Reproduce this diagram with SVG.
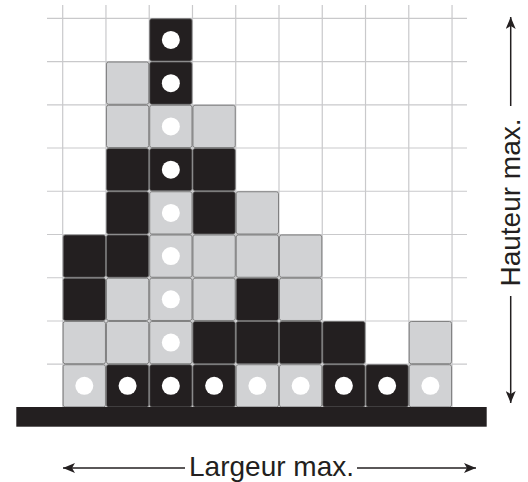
<svg xmlns="http://www.w3.org/2000/svg" width="528" height="482" viewBox="0 0 528 482">
<defs>
<style>
.grid line{stroke:#c9c9cb;stroke-width:1.2}
.b{fill:#231f20;stroke:#6a6a6a;stroke-width:0.8}
.g{fill:#d1d2d4;stroke:#6a6a6a;stroke-width:0.8}
.d{fill:#ffffff}
.ax{stroke:#231f20;stroke-width:1.5;fill:none}
.lbl{font-family:"Liberation Sans",Arial,sans-serif;font-size:28px;fill:#231f20}
</style>
<marker id="ah" viewBox="0 0 12 10" refX="12" refY="5" markerWidth="12" markerHeight="10" markerUnits="userSpaceOnUse" orient="auto">
<path d="M0,0 L12,5 L0,10 L3,5 Z" fill="#231f20"/>
</marker>
</defs>
<rect width="528" height="482" fill="#ffffff"/>
<g class="grid">
<line x1="62.7" y1="5" x2="62.7" y2="407"/>
<line x1="105.96" y1="5" x2="105.96" y2="407"/>
<line x1="149.22" y1="5" x2="149.22" y2="407"/>
<line x1="192.48" y1="5" x2="192.48" y2="407"/>
<line x1="235.74" y1="5" x2="235.74" y2="407"/>
<line x1="279" y1="5" x2="279" y2="407"/>
<line x1="322.26" y1="5" x2="322.26" y2="407"/>
<line x1="365.52" y1="5" x2="365.52" y2="407"/>
<line x1="408.78" y1="5" x2="408.78" y2="407"/>
<line x1="452.04" y1="5" x2="452.04" y2="407"/>
<line x1="47" y1="18.3" x2="467" y2="18.3"/>
<line x1="47" y1="61.54" x2="467" y2="61.54"/>
<line x1="47" y1="104.78" x2="467" y2="104.78"/>
<line x1="47" y1="148.02" x2="467" y2="148.02"/>
<line x1="47" y1="191.26" x2="467" y2="191.26"/>
<line x1="47" y1="234.5" x2="467" y2="234.5"/>
<line x1="47" y1="277.74" x2="467" y2="277.74"/>
<line x1="47" y1="320.98" x2="467" y2="320.98"/>
<line x1="47" y1="364.22" x2="467" y2="364.22"/>
</g>
<g id="cells">
<!-- row 0 -->
<g id="c2r0"><rect class="b" x="149.72" y="18.8" width="42.26" height="42.24" rx="2"/><circle class="d" cx="170.85" cy="39.92" r="9"/></g>
<!-- row 1 -->
<g id="c1r1"><rect class="g" x="106.46" y="62.04" width="42.26" height="42.24" rx="2"/></g>
<g id="c2r1"><rect class="b" x="149.72" y="62.04" width="42.26" height="42.24" rx="2"/><circle class="d" cx="170.85" cy="83.16" r="9"/></g>
<!-- row 2 -->
<g id="c1r2"><rect class="g" x="106.46" y="105.28" width="42.26" height="42.24" rx="2"/></g>
<g id="c2r2"><rect class="g" x="149.72" y="105.28" width="42.26" height="42.24" rx="2"/><circle class="d" cx="170.85" cy="126.4" r="9"/></g>
<g id="c3r2"><rect class="g" x="192.98" y="105.28" width="42.26" height="42.24" rx="2"/></g>
<!-- row 3 -->
<g id="c1r3"><rect class="b" x="106.46" y="148.52" width="42.26" height="42.24" rx="2"/></g>
<g id="c2r3"><rect class="b" x="149.72" y="148.52" width="42.26" height="42.24" rx="2"/><circle class="d" cx="170.85" cy="169.64" r="9"/></g>
<g id="c3r3"><rect class="b" x="192.98" y="148.52" width="42.26" height="42.24" rx="2"/></g>
<!-- row 4 -->
<g id="c1r4"><rect class="b" x="106.46" y="191.76" width="42.26" height="42.24" rx="2"/></g>
<g id="c2r4"><rect class="g" x="149.72" y="191.76" width="42.26" height="42.24" rx="2"/><circle class="d" cx="170.85" cy="212.88" r="9"/></g>
<g id="c3r4"><rect class="b" x="192.98" y="191.76" width="42.26" height="42.24" rx="2"/></g>
<g id="c4r4"><rect class="g" x="236.24" y="191.76" width="42.26" height="42.24" rx="2"/></g>
<!-- row 5 -->
<g id="c0r5"><rect class="b" x="63.2" y="235" width="42.26" height="42.24" rx="2"/></g>
<g id="c1r5"><rect class="b" x="106.46" y="235" width="42.26" height="42.24" rx="2"/></g>
<g id="c2r5"><rect class="g" x="149.72" y="235" width="42.26" height="42.24" rx="2"/><circle class="d" cx="170.85" cy="256.12" r="9"/></g>
<g id="c3r5"><rect class="g" x="192.98" y="235" width="42.26" height="42.24" rx="2"/></g>
<g id="c4r5"><rect class="g" x="236.24" y="235" width="42.26" height="42.24" rx="2"/></g>
<g id="c5r5"><rect class="g" x="279.5" y="235" width="42.26" height="42.24" rx="2"/></g>
<!-- row 6 -->
<g id="c0r6"><rect class="b" x="63.2" y="278.24" width="42.26" height="42.24" rx="2"/></g>
<g id="c1r6"><rect class="g" x="106.46" y="278.24" width="42.26" height="42.24" rx="2"/></g>
<g id="c2r6"><rect class="g" x="149.72" y="278.24" width="42.26" height="42.24" rx="2"/><circle class="d" cx="170.85" cy="299.36" r="9"/></g>
<g id="c3r6"><rect class="g" x="192.98" y="278.24" width="42.26" height="42.24" rx="2"/></g>
<g id="c4r6"><rect class="b" x="236.24" y="278.24" width="42.26" height="42.24" rx="2"/></g>
<g id="c5r6"><rect class="g" x="279.5" y="278.24" width="42.26" height="42.24" rx="2"/></g>
<!-- row 7 -->
<g id="c0r7"><rect class="g" x="63.2" y="321.48" width="42.26" height="42.24" rx="2"/></g>
<g id="c1r7"><rect class="g" x="106.46" y="321.48" width="42.26" height="42.24" rx="2"/></g>
<g id="c2r7"><rect class="g" x="149.72" y="321.48" width="42.26" height="42.24" rx="2"/><circle class="d" cx="170.85" cy="342.6" r="9"/></g>
<g id="c3r7"><rect class="b" x="192.98" y="321.48" width="42.26" height="42.24" rx="2"/></g>
<g id="c4r7"><rect class="b" x="236.24" y="321.48" width="42.26" height="42.24" rx="2"/></g>
<g id="c5r7"><rect class="b" x="279.5" y="321.48" width="42.26" height="42.24" rx="2"/></g>
<g id="c6r7"><rect class="b" x="322.76" y="321.48" width="42.26" height="42.24" rx="2"/></g>
<g id="c8r7"><rect class="g" x="409.28" y="321.48" width="42.26" height="42.24" rx="2"/></g>
<!-- row 8 -->
<g id="c0r8"><rect class="g" x="63.2" y="364.72" width="42.26" height="42.24" rx="2"/><circle class="d" cx="84.33" cy="385.84" r="9"/></g>
<g id="c1r8"><rect class="b" x="106.46" y="364.72" width="42.26" height="42.24" rx="2"/><circle class="d" cx="127.59" cy="385.84" r="9"/></g>
<g id="c2r8"><rect class="b" x="149.72" y="364.72" width="42.26" height="42.24" rx="2"/><circle class="d" cx="170.85" cy="385.84" r="9"/></g>
<g id="c3r8"><rect class="b" x="192.98" y="364.72" width="42.26" height="42.24" rx="2"/><circle class="d" cx="214.11" cy="385.84" r="9"/></g>
<g id="c4r8"><rect class="g" x="236.24" y="364.72" width="42.26" height="42.24" rx="2"/><circle class="d" cx="257.37" cy="385.84" r="9"/></g>
<g id="c5r8"><rect class="g" x="279.5" y="364.72" width="42.26" height="42.24" rx="2"/><circle class="d" cx="300.63" cy="385.84" r="9"/></g>
<g id="c6r8"><rect class="b" x="322.76" y="364.72" width="42.26" height="42.24" rx="2"/><circle class="d" cx="343.89" cy="385.84" r="9"/></g>
<g id="c7r8"><rect class="b" x="366.02" y="364.72" width="42.26" height="42.24" rx="2"/><circle class="d" cx="387.15" cy="385.84" r="9"/></g>
<g id="c8r8"><rect class="g" x="409.28" y="364.72" width="42.26" height="42.24" rx="2"/><circle class="d" cx="430.41" cy="385.84" r="9"/></g>
</g>
<g id="base"><rect x="16.3" y="407" width="470.4" height="19.7" fill="#231f20"/></g>
<g id="connectors">
<line class="ax" x1="185" y1="468" x2="63" y2="468" marker-end="url(#ah)"/>
<line class="ax" x1="357" y1="468" x2="476" y2="468" marker-end="url(#ah)"/>
<line class="ax" x1="510.7" y1="106" x2="510.7" y2="17" marker-end="url(#ah)"/>
<line class="ax" x1="510.7" y1="296" x2="510.7" y2="403" marker-end="url(#ah)"/>
</g>
<g id="labels">
<text class="lbl" x="271.5" y="476" text-anchor="middle">Largeur max.</text>
<text class="lbl" transform="translate(520,202.5) rotate(-90)" text-anchor="middle">Hauteur max.</text>
</g>
</svg>
